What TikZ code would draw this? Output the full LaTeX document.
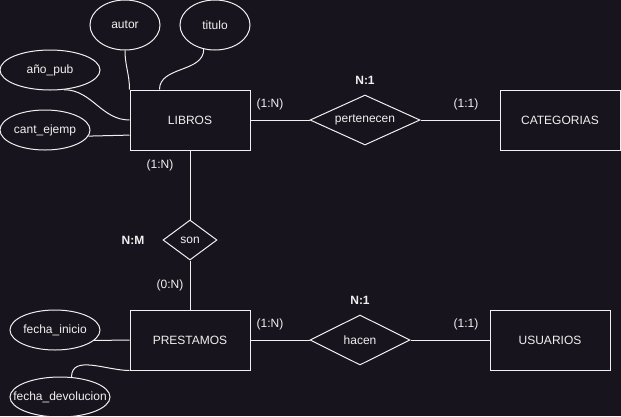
\documentclass[tikz,border=0pt]{standalone}
\usepackage{fontspec}
\setmainfont{Liberation Sans}
\usepackage{tikz}
\usetikzlibrary{positioning}
\usetikzlibrary{shapes.geometric}
\definecolor{fondo}{RGB}{24,20,29}
\definecolor{trazo}{RGB}{240,240,240}
\newcommand{\etq}[1]{\makebox[0pt][c]{#1}}
\tikzset{%
  ent/.style = {rectangle,draw=trazo,line width=1pt,minimum width=120pt,
        minimum height=60pt,inner sep=0pt},
  atr/.style = {ellipse,draw=trazo,line width=1pt,inner sep=0pt},
  rel/.style = {diamond,draw=trazo,line width=1pt,inner sep=0pt,aspect=2},
  card/.style = {text=trazo,inner sep=0pt},
  tipo/.style = {text=trazo,inner sep=0pt,font=\fontsize{12}{14}\selectfont\bfseries},
  con/.style = {draw=trazo,line width=1pt}
}

\begin{document}
\begin{tikzpicture}[x=1pt,y=-1pt,font=\fontsize{12}{14}\selectfont,text=trazo]
                \fill[fondo] (0,0) rectangle (621,416);
                \useasboundingbox (0,0) rectangle (621,416);

                % entidades
                \node[ent] (libros) at (190,120) {LIBROS};
                \node[ent] (categorias) at (560,120) {CATEGORIAS};
                \node[ent] (prestamos) at (190,340) {PRESTAMOS};
                \node[ent] (usuarios) at (550,340) {USUARIOS};

                % relaciones
                \node[rel, minimum width=110pt, minimum height=50pt] (pertenecen) at (365,120) {\etq{pertenecen}};
                \node[rel, minimum width=54pt, minimum height=40pt] (son) at (190,240) {\etq{son}};
                \node[rel, minimum width=100pt, minimum height=50pt] (hacen) at (360,340) {\etq{hacen}};

                % atributos
                \node[atr, minimum width=70pt, minimum height=50pt] (autor) at (125,25) {\etq{autor}};
                \node[atr, minimum width=70pt, minimum height=50pt] (titulo) at (215,25) {\etq{titulo}};
                \node[atr, minimum width=100pt, minimum height=40pt] (anio) at (50,70) {\etq{año\_pub}};
                \node[atr, minimum width=90pt, minimum height=40pt] (cant) at (45,130) {\etq{cant\_ejemp}};
                \node[atr, minimum width=90pt, minimum height=40pt] (fini) at (55,330) {\etq{fecha\_inicio}};
                \node[atr, minimum width=100pt, minimum height=40pt] (fdev) at (60,397) {\etq{fecha\_devolucion}};

                % cardinalidades
                \node[card] (c1) at (270,104) {(1:N)};
                \node[card] (c2) at (466,104) {(1:1)};
                \node[tipo] (t1) at (365,80) {N:1};
                \node[card] (c3) at (160,165) {(1:N)};
                \node[card] (c4) at (170,285) {(0:N)};
                \node[tipo] (t2) at (133,240) {N:M};
                \node[card] (c5) at (270,324) {(1:N)};
                \node[card] (c6) at (466,324) {(1:1)};
                \node[tipo] (t3) at (360,300) {N:1};

                \path[con] (libros) -- (pertenecen)
                           (pertenecen) -- (categorias)
                           (libros) -- (son)
                           (son) -- (prestamos)
                           (prestamos) -- (hacen)
                           (hacen) -- (usuarios);

                \path[con] (autor.south) to[out=-90,in=90] (libros.north west)
                           (titulo.-115) to[out=-90,in=90] (libros.135)
                           (anio.-55) to[out=0,in=180] (libros.west)
                           (cant.-8) -- (libros.194)
                           (fini.-15) to[out=0,in=180] (prestamos.west)
                           (fdev.60) to[out=90,in=180] (prestamos.south west);
\end{tikzpicture}
\end{document}
